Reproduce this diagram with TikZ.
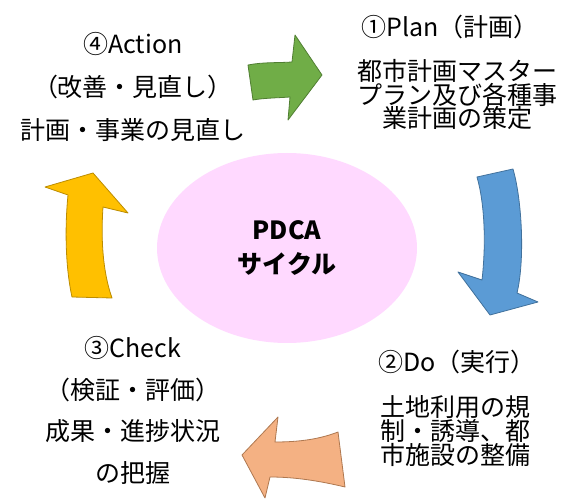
\documentclass[tikz,border=0pt]{standalone}
\usepackage{fontspec}
\setmainfont{Noto Sans CJK JP}
\usetikzlibrary{shapes.geometric}
\definecolor{pdcapink}{RGB}{255,217,255}
\definecolor{plangreen}{RGB}{112,173,71}
\definecolor{plangreenb}{RGB}{80,126,50}
\definecolor{doblue}{RGB}{91,155,213}
\definecolor{doblueb}{RGB}{65,113,156}
\definecolor{checkorange}{RGB}{244,177,131}
\definecolor{checkorangeb}{RGB}{174,120,80}
\definecolor{actyellow}{RGB}{255,192,0}
\definecolor{actyellowb}{RGB}{188,140,0}
\begin{document}
\begin{tikzpicture}[x=1pt,y=-1pt,line join=round,line cap=round,
  txt/.style={inner sep=0pt,font=\fontsize{25}{43}\selectfont},
  block/.style={line width=0.8pt}]
\useasboundingbox (0,0) rectangle (574,500);
% cycle
\node[ellipse,fill=pdcapink,minimum width=260pt,minimum height=190pt,align=center,
  font=\fontsize{25}{35}\selectfont\bfseries] (pdca) at (287,248) {PDCA\\サイクル};
% texts
\node[txt,align=center] (action) at (133,87) {④Action\\（改善・見直し）\\計画・事業の見直し};
\node[txt] (plan) at (450,27) {①Plan（計画）};
\node[txt,align=center,font=\fontsize{25}{23.5}\selectfont] (plantxt) at (457,95) {都市計画マスター\\プラン及び各種事\\業計画の策定};
\node[txt,anchor=west] (do) at (378,362) {②Do（実行）};
\node[txt,align=left,anchor=west,font=\fontsize{25}{24}\selectfont] (dotxt) at (380,431) {土地利用の規\\制・誘導、都\\市施設の整備};
\node[txt,align=center,font=\fontsize{25}{41.7}\selectfont] (check) at (133,410.5) {③Check\\（検証・評価）\\成果・進捗状況\\の把握};
% arrows
\filldraw[block,fill=plangreen,draw=plangreenb] (248,65) .. controls (263,62) and (278,63) .. (292,62)
  -- (295,35) -- (322,75) -- (288,120) -- (290,97) .. controls (276,98) and (264,98) .. (253,100) -- cycle;
\filldraw[block,fill=doblue,draw=doblueb] (477,177) -- (513,169) .. controls (522,200) and (525,260) .. (517,293)
  -- (538,302) -- (490,315) -- (458,272) -- (482,280) .. controls (486,245) and (485,205) .. (477,177) -- cycle;
\filldraw[block,fill=checkorange,draw=checkorangeb] (338,432) -- (345,487) .. controls (320,481) and (295,477) .. (270,477)
  -- (265,498) -- (242,455) -- (278,417) -- (275,442) .. controls (300,442) and (320,439) .. (338,432) -- cycle;
\filldraw[block,fill=actyellow,draw=actyellowb] (72,297) -- (112,298) .. controls (102,270) and (101,235) .. (103,207)
  -- (128,213) -- (93,173) -- (45,187) -- (68,195) .. controls (65,225) and (65,265) .. (72,297) -- cycle;
\end{tikzpicture}
\end{document}
